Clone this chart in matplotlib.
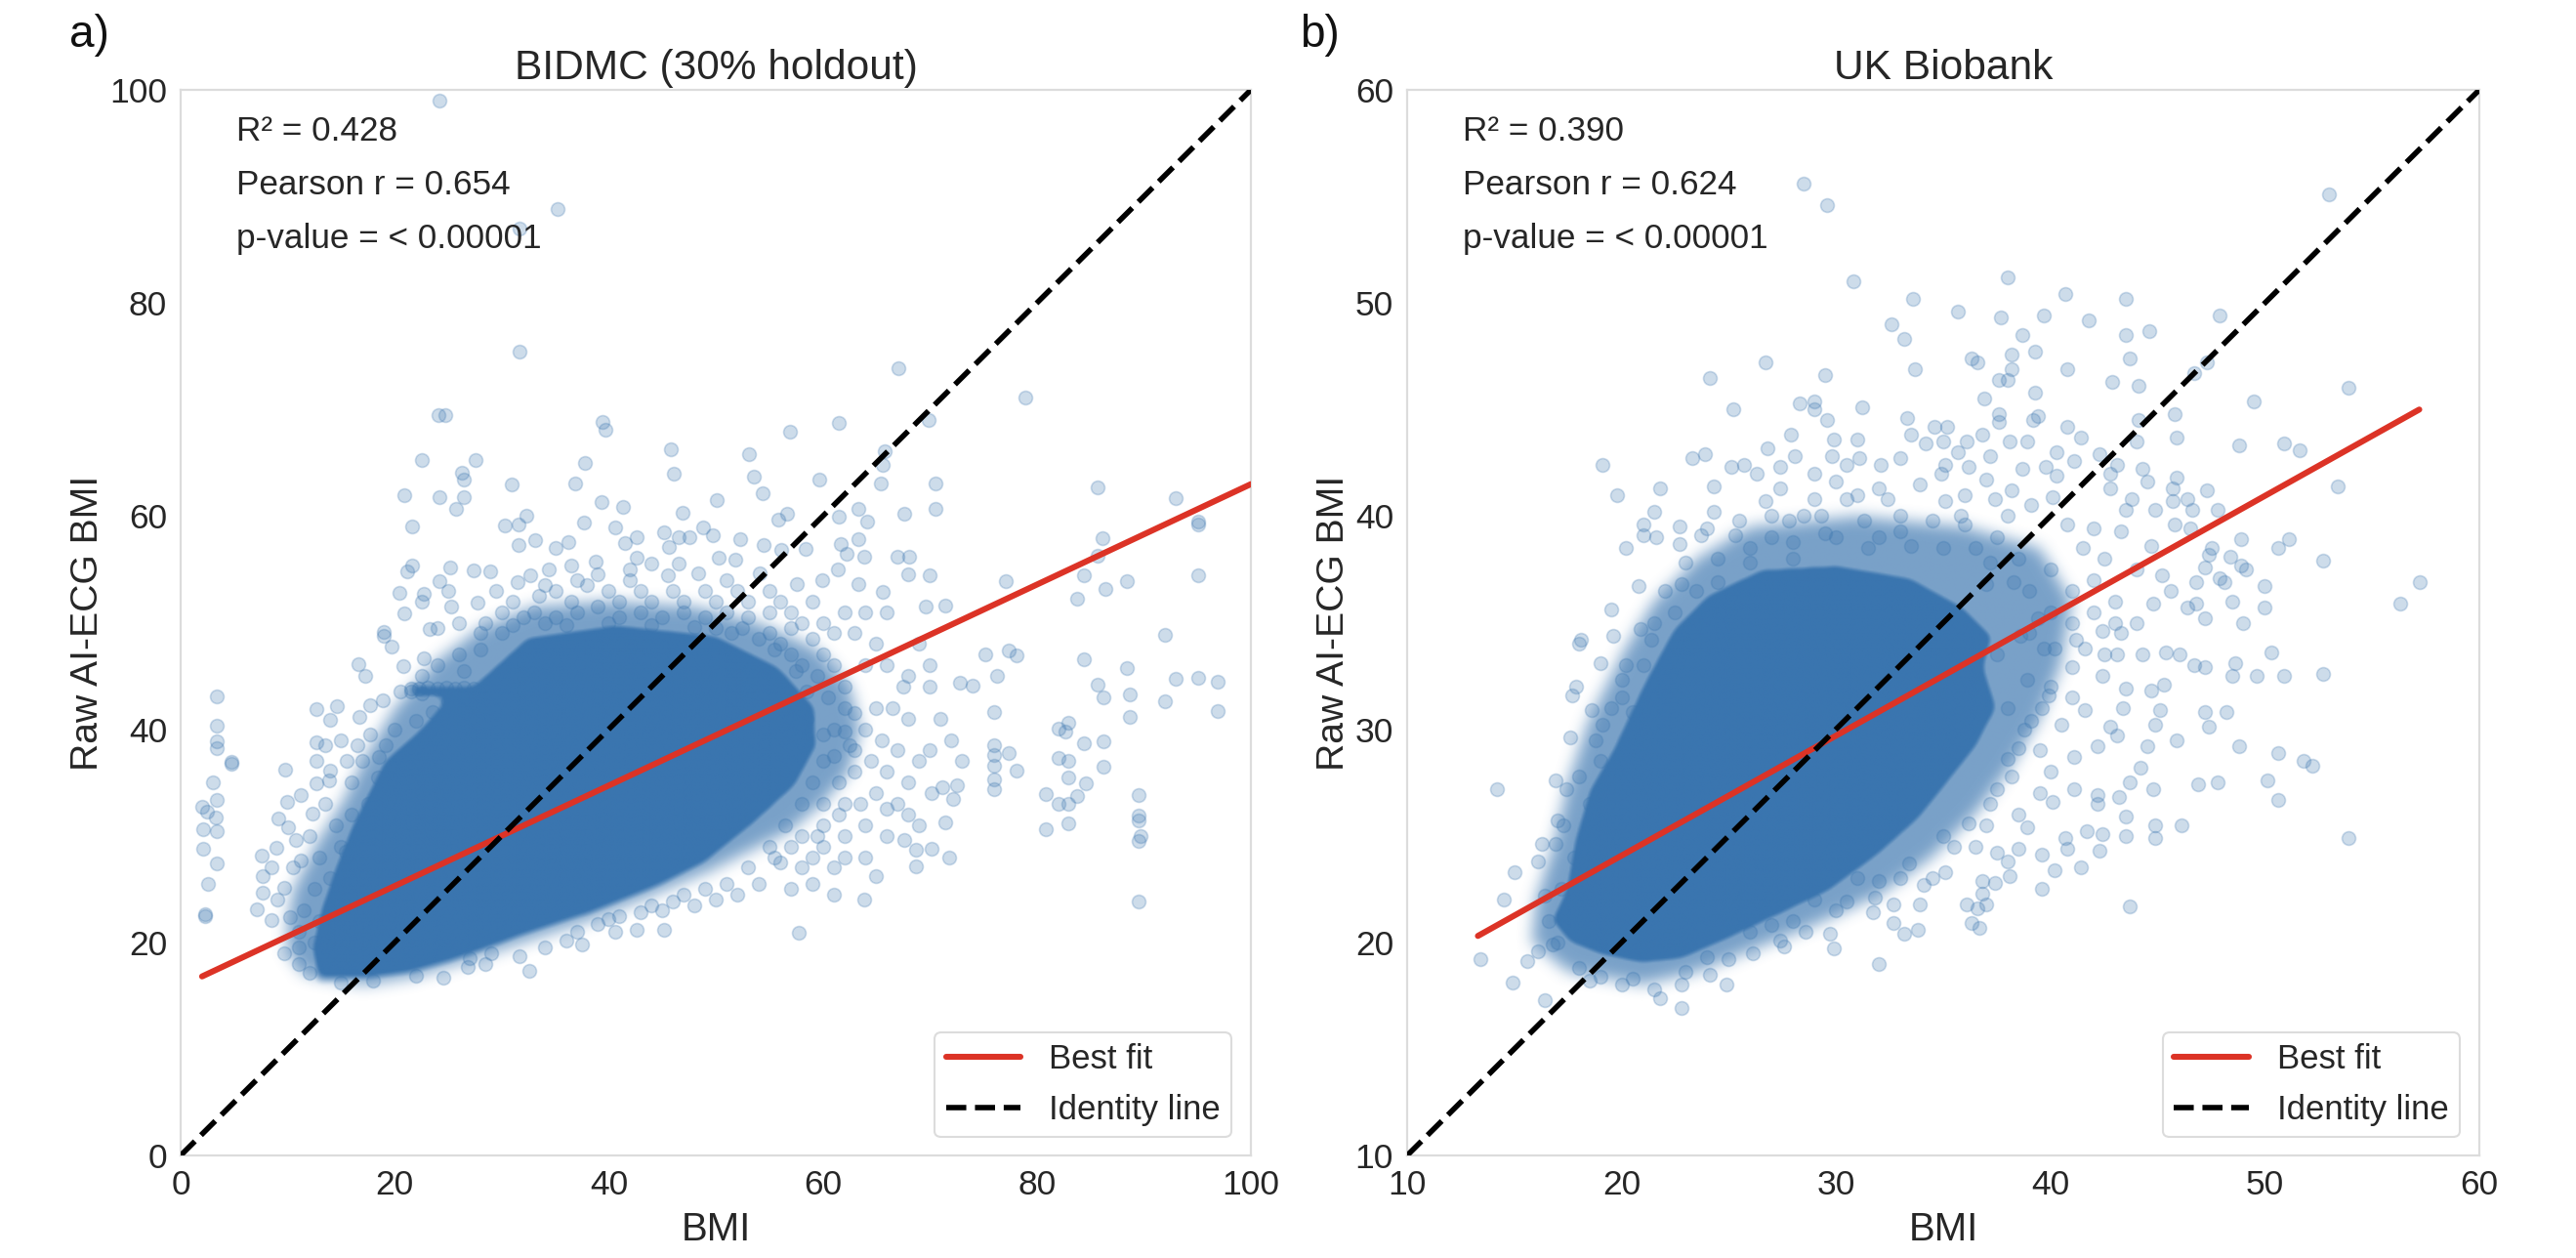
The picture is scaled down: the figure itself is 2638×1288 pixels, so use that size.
import numpy as np
import matplotlib
matplotlib.use("Agg")
import matplotlib.pyplot as plt
from matplotlib.path import Path

plt.rcParams['font.family'] = ['Liberation Sans', 'DejaVu Sans']

BLUE = '#3A75AF'
RED = '#DC3326'
TXT = '#262626'

# Panel a: individually legible points (BMI, AI-ECG BMI)
bidmc_points = np.array([
(24.2,99),(35.2,88.8),(31.7,87),(31.7,75.4),(67.1,73.9),(78.9,71.1),(24.1,69.5),(24.7,69.5),(39.4,68.8),(39.7,68.1),
(56.9,67.9),(61.5,68.7),(69.9,69),(45.8,66.3),(53.1,65.8),(22.5,65.3),(27.6,65.3),(37.8,65),(65.8,66.1),(65.6,64.8),
(26.3,64.1),(26.5,63.4),(46.1,64),(53.6,63.7),(59.7,63.4),(65.4,63.1),(70.5,63.1),(30.9,63),(36.9,63.1),(20.9,62),
(24.2,61.8),(26.5,61.8),(54.4,62.1),(50.1,61.5),(39.3,61.3),(41.3,60.9),(85.7,62.7),(93,61.7),(95.1,59.5),(95.1,59.2),
(25.7,60.7),(63.3,60.7),(70.5,60.7),(67.6,60.2),(46.9,60.3),(56.7,60.2),(55.8,59.7),
(96.9,41.7),(96.9,44.5),(95.1,44.8),(93,44.7),(92,42.6),(92,48.9),(88.7,43.3),(88.7,41.2),(89.5,33.8),(89.5,31.9),
(89.5,31.4),(89.7,30),(89.5,29.5),(89.5,23.8),(86.2,43),(85.7,44.2),(84.4,46.6),(88.4,45.7),(82.9,40.6),(82.7,39.8),
(82,40.1),(84.4,38.7),(86.2,38.9),(82,37.3),(82.9,37),(86.2,36.5),(82.9,35.5),(84.6,34.9),(80.8,33.9),(83.8,33.7),
(82,33),(82.9,33),(82.9,31.2),(80.8,30.6),(76,41.6),(76,38.5),(76,37.6),(76,36.6),(77.4,37.8),(78.1,36.1),(76,35.3),
(76,34.4),(76.3,45),(78.1,46.9),(77.4,47.4),(75.2,47),(74,44.1),(72.8,44.4),(72.5,34.7),(72.2,33.5),(71.2,34.6),
(70.2,34),(71.4,31.3),(71.8,28),(70.2,28.8),(68.7,28.7),(68.7,27.1),(67.6,29.6),(65,26.2),(63.9,24),(57.8,20.9),
(45.2,21.2),(42.6,21.2),(40.6,21),(37.5,19.8),(32.6,17.3),(24.5,16.7),(31.7,18.7),(28.5,18),(26.8,17.7),
(3.4,43.1),(3.4,40.3),(3.4,38.9),(3.4,38.2),(4.7,36.8),(4.7,36.9),(3,35),(3.4,33.4),(2,32.7),(2.5,32.3),(3.3,31.7),
(2.1,30.6),(3.4,30.4),(2.1,28.8),(3.4,27.4),(2.6,25.5),(2.3,22.5),(2.3,22.6),(7.1,23.1),(7.6,28.1),(7.7,26.2),(7.7,24.7),
(9.7,19),(12.7,41.9),(14.6,42.2),(14,40.9),(16.7,41.2),(12.7,38.8),(12.7,37),(9.8,36.2),(14,36.1),(12.7,34.9),(13.9,35.2),
(11.2,33.8),(9.9,33.2),(9.1,31.6),(12.3,32.1),(10,30.8),(8.9,28.9),(10.8,29.6),(9.7,25.1),(8.5,22.1),(10.2,22.4),
(11.2,27.7),(12,17.1),(16.6,46.1),(17.2,45),(20.8,45.9),(19,49.1),(19.7,47.8),(23.3,49.4),(22.7,46.7),(17.7,42.3),
(18.9,42.7),(20.5,43.5),(17.7,39.5),(18.5,37.4),
(57,29),(58,30),(59,28),(60,31),(61,27),(60,33),(62,30),(62,33),(63,36),(64,31),(63,38),(64,40),(65,34),(66,36),(65,42),
(66,30),(67,33),(67,38),(68,35),(68,41),(69,37),(69,31),(70,38),(70,44),(68,45),(66,46),(64,46),(62,44),(61,46),(60,47),
(63,49),(65,48),(59,35),(60,37),(61,40),(62,42),(58,46),(57,47),(56,48),(55,49),(58,50),(60,50),(59,52),(62,51),(64,51),
(66,51),(70,46),(61.5,35),(62.5,38.5),(63.5,33),(64.5,37),(65.5,39),(66.5,42),(67.5,44),(69,48),(71,41),(72,39),(73,37),
(66,32.5),(68,32),(64,28),(62,28),(60,29),(58,27),(56,27.5),(55,29),(61,24.5),(59,25.5),(57,25),(54,25.5),(52,24.5),
(50,24),(48,23.5),(47,24.5),(45,23),(43,22.8),(41,22.5),(39,21.7),(36,20.2),(34,19.5),
(21.6,59),(30.3,59.1),(31.6,59.2),(32.3,60),(37.7,59.4),(40.6,58.9),(45.2,58.5),(48.8,58.9),(49.7,58.2),(46.5,58),(47.5,58),
(42.6,58),(41.5,57.5),(36.2,57.6),(33.1,57.7),(31.6,57.3),(35,57),(45.6,57.1),(52.3,57.8),(54.5,57.3),(56.1,56.8),
(61.5,59.9),(64.1,59.5),(63.3,57.8),(61.7,57.4),(86.1,57.9),(85.7,56.3),(88.4,53.9),(84.4,54.4),(86.4,53.2),(95.1,54.4),
(83.8,52.2),(77.1,53.9),(71.4,51.6),(70,54.4),(68,54.5),(67,56.2),(68.1,56.2),(63.9,56.2),(62.2,56.5),(58.4,56.9),
(21.2,54.8),(21.6,55.4),(25.2,55.2),(27.4,54.9),(28.9,54.8),(20.4,52.8),(22.7,52.7),(22.5,52),(25,53),(24.2,53.9),
(20.9,50.9),(19,48.8),(25.3,51.5),(27.7,51.9),(31.5,53.8),(32.7,54.4),(34.4,55),(36.5,55.4),(38.8,55.7),(42.6,56.1),
(45.5,54.4),(48.4,54.6),(50.3,56.1),(51.8,55.9),(54.1,54.6),(57.6,53.6),(59.9,54),(63.3,53.6),(61.4,55),(65.6,52.9),
(69.6,51.5),(33.5,52.5),(35,53),(36.5,52),(38,53.5),(39,54.5),(40,53),(41,52),(42,54),(43,53),(44,52),(46,53),(47,52),
(49,53),(50,52),(51,54),(52,53),(53,52),(55,53),(56,52),(57,51),(30,51),(31,52),(32,50.5),(28.5,50),(29.5,53),(26,50),
(24,49.5),(33,51),(35,50.5),(37,51),(39,51.5),(41,50.5),(43,51),(45,50.5),(47,51),(49,50.5),(51,51),(53,50.5),(55,51),
(42,55),(44,55.5),(46.5,55.5),(37,54),(34,53.5),(52.5,49.5),(54,48.5),(50,49.5),(26,47),(24,46),(22.5,45),(28,47.5),
(30,49),(59,48.5),(61,49),(57,49.5),(15,39),(15.5,37),(16,35),(13.5,33),(14.5,31),(15,29),(12,30),(13,28),(12.5,25),
(11.5,23),(11,21),(10.5,27),(13.5,38.5),(16.5,38.5),(17,37),(9,24),(8.5,27),(11,19.5),(11,18),
(21.5,43.8),(22.3,43.8),(23.1,43.9),(24,43.8),(24.8,43.9),(25.6,43.8),(26.5,43.9),(27.4,43.8),(21.5,43.5),(22.5,43.4),
(25,42.6),(23.5,41.6),(22,40.8),(20,40),(19.2,38.5),(18.4,35.5),(17.5,33),(16,32),(15.4,28.5),(14,26),(13,22),(12.5,20),
(60,39.5),(61,37.5),(60.5,43),(59.5,45),(58.5,41),(62,39.8),(63,41.5),(61.5,32),(59.5,30),(58,33),(56.5,31),(55.5,28),
(53,27),(51,25.5),(49,25),(46,23.8),(44,23.5),(40,22.2),(37,21),(29,19),(27,18.5),(22,16.9),(18,16.4),(15,16.2),
(28,49),(31,49.8),(34,50),(36,49.8),(40,50),(44,49.8),(48,49.6),(51.5,49),(55.5,47.5),(57.5,45.5),(58.5,43.5),(26.5,45.5),
])

# Panel a: solid core and mottled fringe of the cloud, as outlines
bidmc_core_x = [12.7,17,21.5,26,32.3,38.4,44.6,49.2,53.8,57.6,59.6,59.5,56,50,40.7,32.3,27.3,21.5,21.5,24.6,22.3,18.9,17.2,15.7,14.2,12.9,12]
bidmc_core_y = [16.4,16.4,17,18.3,20.6,22.6,25.1,27.4,31.1,34.6,38.3,42.1,46,49,50,48.8,44.3,44.3,42.9,42.9,40.2,37.2,33.8,30.8,27,23.2,19.4]
bidmc_fringe_x = [11.5,17,21.5,26,32,38,44,49,53,57,60,62.5,63.5,62.5,59.5,54,48,40,33,28,24,20,17,15,12.5,10.5,10,10]
bidmc_fringe_y = [17,16,16.7,18,20,22,24.4,26.5,28.5,30.5,33,36,40,44,47.5,50,51.5,52,51.5,49.5,46.5,42,37,33,29,25,22,19]

# Panel b: individually legible points (BMI, AI-ECG BMI)
ukb_points = np.array([
(28.5,55.6),(29.6,54.6),(53,55.1),(30.8,51),(38,51.2),(40.7,50.4),(43.5,50.2),(33.6,50.2),(35.7,49.6),(37.7,49.3),(39.7,49.4),
(41.8,49.2),(47.9,49.4),(32.6,49),(33.2,48.3),(38.7,48.5),(43.5,48.5),(44.6,48.7),(38.2,47.6),(39.3,47.7),(43.7,47.4),
(26.7,47.2),(36.3,47.4),(36.6,47.2),(33.7,46.9),(38.2,46.9),(40.8,46.9),(47.3,47.2),(24.1,46.5),(29.5,46.6),(46.7,46.7),
(37.6,46.4),(38,46.4),(42.9,46.3),(44.1,46.1),(53.9,46),(39.3,45.8),(36.9,45.5),(49.5,45.4),(28.3,45.3),(29,45.4),(29,45),
(31.2,45.1),(25.2,45),(37.6,44.8),(39.4,44.7),(39.2,44.5),(33.3,44.6),(29.6,44.5),(37.6,44.4),(40.8,44.2),(44.1,44.5),
(45.8,44.8),(34.6,44.2),(35.2,44.2),(33.5,43.8),(36.8,43.8),(41.4,43.7),(45.9,43.7),(27.9,43.8),(29.9,43.6),(31,43.6),
(36.1,43.5),(38.1,43.5),(38.9,43.5),(44,43.5),(48.8,43.3),(50.9,43.4),(51.6,43.1),(26.8,43.2),(34.2,43.4),(35,43.5),
(40.3,43),(42.3,42.9),(23.9,42.9),(23.3,42.7),(19.1,42.4),(28.1,42.8),(29.8,42.8),(31.1,42.7),(33,42.7),(35.7,43),(37.2,42.8),
(41.1,42.6),(43.1,42.4),(25.1,42.3),(25.7,42.4),(27.4,42.3),(30.5,42.4),(32.1,42.4),(35.1,42.4),(36.2,42.3),(39.8,42.3),
(44.3,42.2),(26.3,42),(29,42),(34.9,42),(38.7,42.2),(40.3,41.9),(42.8,42),(45.9,41.8),(44.5,41.6),(53.4,41.4),(19.8,41),
(21.8,41.3),(24.3,41.4),(27.4,41.3),(30,41.6),(32,41.3),(33.9,41.5),(37,41.7),(38.2,41.2),(40.1,40.9),(42.8,41.3),(45.7,41.3),
(47.3,41.2),(43.8,40.8),(46.4,40.8),(45.7,40.7),(46.6,40.3),(47.8,40.3),(44.9,40.3),(43.5,40.3),(21.5,40.2),(24.3,40.2),
(26.7,40.7),(29,40.8),(30.5,40.8),(32.4,40.8),(35.1,40.7),(37.4,40.8),(39.1,40.5),(25.5,39.8),(27.8,39.8),(29.3,40),(31.3,39.8),
(35.8,40),(40.8,39.6),(42,39.4),(45.8,39.6),(46.5,39.4),(21,39.6),(22.7,39.5),(21,39.1),(21.6,39),(23.7,39.1),(22.7,38.7),
(20.2,38.5),(25.3,39.1),(48.9,38.9),(51.1,38.9),(50.6,38.5),(47.5,38.5),(47.4,38.2),(48.4,38.1),(48.9,37.7),(52.7,37.9),
(43.3,39.3),(44.7,38.6),(47.2,37.6),(46.8,36.9),(47.9,37.1),(49.1,37.5),(48.1,36.9),(50,36.7),(57.2,36.9),(56.3,35.9),
(48.5,36),(50,35.7),(46.8,35.9),(46.4,35.7),(47.2,35.2),(49,35),(44.8,35.9),(45.6,36.5),(45.2,37.2),(23,37.8),(20.8,36.7),
(22,36.5),(19.5,35.6),(18.1,34.2),(19.6,34.4),(20.9,34.7),
(52.7,32.6),(50.3,33.6),(48.6,33.1),(48.5,32.5),(49.6,32.5),(50.9,32.5),(47.2,32.9),(46.7,33),(46,33.5),(47.2,30.8),(48.2,30.8),
(47.4,30.1),(45.9,29.5),(48.8,29.2),(50.6,28.9),(51.8,28.5),(52.2,28.3),(47.8,27.5),(46.9,27.4),(50.1,27.6),(50.6,26.7),
(53.9,24.9),(46.1,25.5),(44.9,25.5),(44.9,24.9),(43.5,25),(43.5,25.9),(43.7,21.7),(41.4,23.5),(40.2,23.4),(39.6,22.5),
(42.3,24.3),(42.4,25.1),(41.7,25.2),(40.7,24.9),(40.8,24.4),(39.6,24.1),(38.5,24.4),(38,23.8),(38.1,23.1),(37.4,22.8),
(36.8,22.9),(36.8,22.3),(37,21.8),(36.1,21.8),(36.6,21.6),(36.3,20.9),(36.7,20.7),(33.8,20.6),(33.2,20.4),(32.7,20.9),
(32.7,21.8),(32,19),(29.9,19.7),(29.7,20.4),(28.6,20.5),(27.6,19.8),(24.9,18),(24.1,18.5),(22.8,16.9),(21.8,17.4),(21.5,17.8),
(22.8,18),(16.4,17.3),(14.9,18.1),(13.4,19.2),(15.6,19.1),(14.5,22),(15,23.3),(14.2,27.2),(16.1,19.6),(16.1,23.8),(16.3,24.6),
(16.9,24.6),(17,25.7),(17.4,27.2),(16.9,27.6),(17.6,29.6),(17.7,31.6),(17.9,32),(18,34),(19,33.1),(18.6,30.9),(19.1,30.2),
(20,32.3),(20.5,30.8),
(38.9,25.4),(40.1,26.6),(41.1,27.2),(42.2,26.9),(43.2,26.8),(44.8,27.2),(44.2,28.2),(43.7,27.5),(42.2,26.5),(44.5,29.2),
(43.1,29.7),(42.2,29.2),(41.1,28.7),(43.4,31),(45.1,30.9),(44.9,30.2),(42.8,30.1),(41.6,30.9),(40.5,30.2),(45.3,32.1),
(44.7,31.8),(43.5,31.9),(42.4,32.5),(41,32.9),(39.9,31.6),(44.3,33.5),(45.4,33.6),(43.1,33.5),(41.6,33.8),(43.3,34.5),
(42.4,34.6),(41.2,34.2),(39.7,33.8),(38.9,32.3),(39.1,30.4),(38.5,29.1),(38.2,27.8),(37.2,26.5),(37,25.5),(35.1,23.3),
(34.1,22.7),(33.9,21.8),(31.8,22.1),(31.7,21.4),(30.5,21.9),(27.4,20.1),(26.1,19.5),(24,19.3),
(41,36.5),(42,37),(43,36),(44,37.5),(42.5,38),(41.5,38.5),(40,37.5),(40,35.5),(39,36.5),(38.5,38),(37.5,39),(36.5,38.5),
(38,40),(36,41),(33,40),(31,41),(28.5,40),(26,38.5),(24.5,38),(23.5,36.5),(21.5,35),(22.5,35.5),(21,33),(20,31.5),(19,28.5),
(18.5,26.5),(17.8,24),(17.2,22.5),(16.6,21),(17,20),(18,18.8),(19,18.4),(20,18),(26,20.5),(28,21),(40,28),(39.5,27),(38.5,26),
(36.5,24.5),(35.5,24.5),(37.5,24.2),(34.5,23),(33,23),(31,23),(29,22),(43,35),(44,35),(42,35.5),(41,35),(39,34.5),(37.5,33.5),
(38,31),(39.5,29),(41,31.5),(42.5,33.5),(40,32),(37,36.8),(35,38.5),(33.5,38.6),(32,39),(30,39),(28,38.8),(27,39),(24,39.4),
(27,40),(29.5,39.2),(31.5,38.5),(33,39.3),(34.5,39.8),(36,39.6),(37.2,37.8),(38.3,36.9),(39.4,35.2),(40.2,33.8),(38.6,34.4),
(39.6,31),(38.8,30),(38,28.6),(37.5,27.2),(36.2,25.6),(35,25),(33.4,23.7),(32,22.9),(30,21.5),(27,20.8),(25,19.2),(23,18.6),
(20.5,18.3),(18.5,18.2),(16.8,19.9),(16.4,22.2),(17.3,25.5),(18,27.8),(18.8,29.5),(19.5,31),(20.2,33),(21.4,34.2),(22.8,36.8),
(24.5,36.9),(26,37.8),(28,38),
])

# Panel b: solid core and mottled fringe of the cloud, as outlines
ukb_core_x = [16.6,17.5,19,20.9,22.8,25.1,27.4,29.7,32,33.9,35.1,36.6,37.6,37,37.4,36,33.5,30,26.5,24,22.3,21,20.2,19.5,18.4,17.7,17.3]
ukb_core_y = [21,19.9,19.3,18.9,19.1,20.1,21.2,22.3,24,25.7,27.2,29.1,31,32.9,34.4,35.8,37.2,37.8,37.6,36.4,34.7,32.3,30.6,29.1,27.2,24.8,22.5]
ukb_fringe_x = [15.8,17.5,21,23.5,26,29,32,34.5,36.5,38,39.5,40.5,41,39.5,36,31,26,23.5,21.5,20,18.5,17.5,16.8,16]
ukb_fringe_y = [20,18.6,18,18.6,19.6,20.8,22.2,24,26,28,30.5,33,36,38.5,39.5,40,39.5,38,36,33.5,30.5,27.5,24.5,22]

# Fitted and identity lines
bidmc_fit_x, bidmc_fit_y = [2, 100], [16.8, 63]
bidmc_id = [0, 100]
ukb_fit_x, ukb_fit_y = [13.3, 57.2], [20.3, 45]
ukb_id = [10, 60]

titles = ['BIDMC (30% holdout)', 'UK Biobank']
stats = [['R² = 0.428', 'Pearson r = 0.654', 'p-value = < 0.00001'],
         ['R² = 0.390', 'Pearson r = 0.624', 'p-value = < 0.00001']]
panel_labels = ['a)', 'b)']
ticks = [[0, 20, 40, 60, 80, 100], [10, 20, 30, 40, 50, 60]]

W, H = 2638, 1288
fig = plt.figure(figsize=(W/100, H/100), dpi=100, facecolor='white')
boxes = [(185, 1281), (1441, 2539)]
TOP, BOTTOM = 92, 1183
axes = [fig.add_axes([l/W, 1-BOTTOM/H, (r-l)/W, (BOTTOM-TOP)/H]) for l, r in boxes]


def soft_mask(xs, ys, lim, width):
    """Rasterise an outline on a fine grid and soften its edge (width in cells)."""
    n = 800
    g = np.linspace(lim[0], lim[1], n)
    gx, gy = np.meshgrid(g, g)
    inside = Path(np.column_stack([xs, ys])).contains_points(
        np.column_stack([gx.ravel(), gy.ravel()])).reshape(n, n).astype(float)
    kernel = np.ones(width) / width
    for _ in range(3):
        inside = np.apply_along_axis(np.convolve, 0, inside, kernel, mode='same')
        inside = np.apply_along_axis(np.convolve, 1, inside, kernel, mode='same')
    return inside


def panel(ax, i, pts, cx, cy, fx, fy, fitx, fity, ident):
    lim = (ticks[i][0], ticks[i][-1])
    core = soft_mask(cx, cy, lim, 7)
    fringe = soft_mask(fx, fy, lim, 11)
    alpha = np.clip(np.maximum(core * 1.15, fringe * 0.68), 0, 1)
    rgba = np.zeros(alpha.shape + (4,))
    rgba[..., :3] = matplotlib.colors.to_rgb(BLUE)
    rgba[..., 3] = alpha
    ax.imshow(rgba, extent=(lim[0], lim[1], lim[0], lim[1]), origin='lower', aspect='auto',
              interpolation='bilinear', zorder=1)
    ax.scatter(pts[:, 0], pts[:, 1], s=100, color=BLUE, alpha=0.25, linewidths=1.2, zorder=2)
    ax.plot(fitx, fity, color=RED, lw=4.4, label='Best fit', zorder=3, solid_capstyle='round')
    ax.plot(ident, ident, color='black', lw=4, ls='--', label='Identity line', zorder=4)
    ax.set_xlim(*lim)
    ax.set_ylim(*lim)
    ax.set_xticks(ticks[i])
    ax.set_yticks(ticks[i])
    ax.tick_params(length=0, labelsize=25.5, labelcolor=TXT, pad=10)
    ax.grid(False)
    for s in ax.spines.values():
        s.set_color('#DCDCDC')
        s.set_linewidth(1.6)
    ax.set_xlabel('BMI', fontsize=29, color=TXT, labelpad=7)
    ax.set_ylabel('Raw AI-ECG BMI', fontsize=28.2, color=TXT, labelpad=3)
    ax.set_title(titles[i], fontsize=30.6, color=TXT, pad=8)
    for k, s in enumerate(stats[i]):
        ax.text(0.052, 0.961 - 0.0503*k, s, transform=ax.transAxes, fontsize=25.3, color=TXT,
                va='center', ha='left', zorder=5)
    leg = ax.legend(loc='lower right', bbox_to_anchor=(0.982, 0.017), borderaxespad=0, fontsize=25,
                    frameon=True, fancybox=True, framealpha=1, edgecolor='#DCDCDC', labelcolor=TXT,
                    handlelength=2.2, labelspacing=0.55, borderpad=0.32, handletextpad=0.85)
    leg.get_frame().set_linewidth(1.5)
    leg.set_zorder(6)


panel(axes[0], 0, bidmc_points, bidmc_core_x, bidmc_core_y, bidmc_fringe_x, bidmc_fringe_y,
      bidmc_fit_x, bidmc_fit_y, bidmc_id)
panel(axes[1], 1, ukb_points, ukb_core_x, ukb_core_y, ukb_fringe_x, ukb_fringe_y,
      ukb_fit_x, ukb_fit_y, ukb_id)

fig.text(71/W, 1-36/H, panel_labels[0], fontsize=33, color='#111111', va='center', ha='left')
fig.text(1331/W, 1-36/H, panel_labels[1], fontsize=33, color='#111111', va='center', ha='left')

fig.savefig('out.png', dpi=100, facecolor='white')
